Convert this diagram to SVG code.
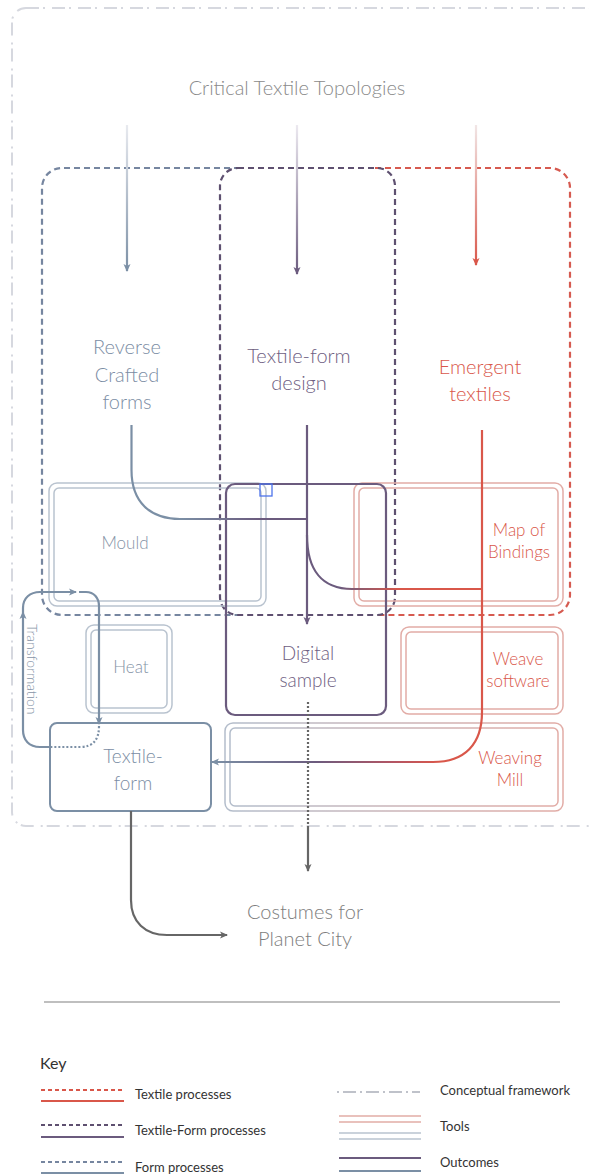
<svg xmlns="http://www.w3.org/2000/svg" width="589" height="1176" viewBox="0 0 589 1176">
<style>
text{font-family:Lato,"Open Sans","Liberation Sans",sans-serif;font-weight:300}
.t20{font-size:20px}
.t18{font-size:17px}
.key{font-size:13px;fill:#333;font-weight:400}
.blue{fill:#7b8da4}
.purp{fill:#6e6082}
.red{fill:#d9574a}
.dashB{fill:none;stroke:#7686a0;stroke-width:2.2;stroke-dasharray:6 4}
.dashP{fill:none;stroke:#5e5070;stroke-width:2.2;stroke-dasharray:6 4}
.dashR{fill:none;stroke:#d65a50;stroke-width:2.2;stroke-dasharray:6 4}
.frame{fill:none;stroke:#d6d8df;stroke-width:2;stroke-dasharray:13 4 2 7}
.toolB{fill:none;stroke:#b9c3cf;stroke-width:1.5}
.toolR{fill:none;stroke:#e2aca6;stroke-width:1.5}
.ln{fill:none;stroke-width:2.2}
</style>
<defs>
<linearGradient id="gB" gradientUnits="userSpaceOnUse" x1="0" y1="125" x2="0" y2="272"><stop offset="0" stop-color="#e8eaef"/><stop offset="1" stop-color="#7b8fa5"/></linearGradient>
<linearGradient id="gP" gradientUnits="userSpaceOnUse" x1="0" y1="125" x2="0" y2="275"><stop offset="0" stop-color="#ece9f0"/><stop offset="1" stop-color="#6b5b7e"/></linearGradient>
<linearGradient id="gR" gradientUnits="userSpaceOnUse" x1="0" y1="125" x2="0" y2="265"><stop offset="0" stop-color="#f1e6e6"/><stop offset="1" stop-color="#d9574a"/></linearGradient>
<linearGradient id="gBP" gradientUnits="userSpaceOnUse" x1="180" y1="0" x2="260" y2="0"><stop offset="0" stop-color="#7b8fa5"/><stop offset="1" stop-color="#6b5b7e"/></linearGradient>
<linearGradient id="gPR" gradientUnits="userSpaceOnUse" x1="340" y1="0" x2="400" y2="0"><stop offset="0" stop-color="#6b5b7e"/><stop offset="1" stop-color="#d9574a"/></linearGradient>
<linearGradient id="gRPB" gradientUnits="userSpaceOnUse" x1="213" y1="0" x2="440" y2="0"><stop offset="0" stop-color="#7b8fa5"/><stop offset="0.45" stop-color="#6b5b7e"/><stop offset="0.8" stop-color="#b55563"/><stop offset="1" stop-color="#d9574a"/></linearGradient>
<linearGradient id="gMill" x1="0" y1="0" x2="1" y2="0"><stop offset="0" stop-color="#b3bdcb"/><stop offset="1" stop-color="#e2aca6"/></linearGradient>
<marker id="aB" viewBox="0 0 8 8" refX="7" refY="4" markerWidth="8" markerHeight="8" markerUnits="userSpaceOnUse" orient="auto"><path d="M0,0.5 L8,4 L0,7.5 L2,4 z" fill="#7b8fa5"/></marker>
<marker id="aP" viewBox="0 0 8 8" refX="7" refY="4" markerWidth="8" markerHeight="8" markerUnits="userSpaceOnUse" orient="auto"><path d="M0,0.5 L8,4 L0,7.5 L2,4 z" fill="#6b5b7e"/></marker>
<marker id="aR" viewBox="0 0 8 8" refX="7" refY="4" markerWidth="8" markerHeight="8" markerUnits="userSpaceOnUse" orient="auto"><path d="M0,0.5 L8,4 L0,7.5 L2,4 z" fill="#d9574a"/></marker>
<marker id="aG" viewBox="0 0 8 8" refX="7" refY="4" markerWidth="8" markerHeight="8" markerUnits="userSpaceOnUse" orient="auto"><path d="M0,0.5 L8,4 L0,7.5 L2,4 z" fill="#666"/></marker>
</defs>
<rect width="589" height="1176" fill="#fff"/>

<!-- conceptual framework -->
<rect id="framework" class="frame" x="12" y="8" width="590" height="818" rx="14"/>

<text id="title" class="t20" x="297" y="95" text-anchor="middle" fill="#8a8a8a">Critical Textile Topologies</text>

<!-- process dashed areas -->
<g id="form-processes"><path class="dashB" d="M240 168 H62 A20 20 0 0 0 42 188 V595 A20 20 0 0 0 62 615 H240"/></g>
<g id="textile-processes"><path class="dashR" d="M375 168 H550 A20 20 0 0 1 570 188 V595 A20 20 0 0 1 550 615 H375"/></g>
<g id="textile-form-processes"><rect class="dashP" x="220" y="168" width="175" height="447" rx="18"/></g>

<!-- tools -->
<g id="mould">
<rect class="toolB" x="49" y="483" width="217" height="123" rx="8"/>
<rect class="toolB" x="54" y="488" width="207" height="113" rx="5"/>
<text class="t18" x="125" y="549" text-anchor="middle" fill="#8593a6">Mould</text>
</g>
<g id="heat">
<rect class="toolB" x="86" y="625" width="86" height="88" rx="8"/>
<rect class="toolB" x="91" y="630" width="76" height="78" rx="5"/>
<text class="t18" x="131" y="673" text-anchor="middle" fill="#8593a6">Heat</text>
</g>
<g id="map-of-bindings">
<rect class="toolR" x="354" y="483" width="209" height="123" rx="8"/>
<rect class="toolR" x="359" y="488" width="199" height="113" rx="5"/>
<text class="t18 red" x="519" y="536" text-anchor="middle">Map of</text>
<text class="t18 red" x="519" y="558" text-anchor="middle">Bindings</text>
</g>
<g id="weave-software">
<rect class="toolR" x="401" y="627" width="162" height="87" rx="8"/>
<rect class="toolR" x="406" y="632" width="152" height="77" rx="5"/>
<text class="t18 red" x="518" y="665" text-anchor="middle">Weave</text>
<text class="t18 red" x="518" y="687" text-anchor="middle">software</text>
</g>
<g id="weaving-mill">
<rect x="225" y="723" width="338" height="88" rx="8" fill="none" stroke="url(#gMill)" stroke-width="1.5"/>
<rect x="230" y="728" width="328" height="78" rx="5" fill="none" stroke="url(#gMill)" stroke-width="1.5"/>
<text class="t18 red" x="510" y="764" text-anchor="middle">Weaving</text>
<text class="t18 red" x="510" y="786" text-anchor="middle">Mill</text>
</g>

<!-- nodes -->
<g id="reverse-crafted-forms">
<text class="t20 blue" x="127" y="354" text-anchor="middle">Reverse</text>
<text class="t20 blue" x="127" y="382" text-anchor="middle">Crafted</text>
<text class="t20 blue" x="127" y="409" text-anchor="middle">forms</text>
</g>
<g id="textile-form-design">
<text class="t20 purp" x="299" y="363" text-anchor="middle">Textile-form</text>
<text class="t20 purp" x="299" y="390" text-anchor="middle">design</text>
</g>
<g id="emergent-textiles">
<text class="t20 red" x="480" y="374" text-anchor="middle">Emergent</text>
<text class="t20 red" x="480" y="401" text-anchor="middle">textiles</text>
</g>
<g id="digital-sample">
<rect x="226" y="484" width="160" height="231" rx="9" fill="none" stroke="#6b5b7e" stroke-width="2.2"/>
<text class="t18 purp" x="308" y="660" text-anchor="middle" style="font-size:19px">Digital</text>
<text class="t18 purp" x="308" y="687" text-anchor="middle" style="font-size:19px">sample</text>
</g>
<g id="textile-form">
<rect x="50" y="723" width="161" height="88" rx="7" fill="none" stroke="#7b8fa5" stroke-width="2"/>
<text class="t20 blue" x="133" y="763" text-anchor="middle" style="font-size:19px">Textile-</text>
<text class="t20 blue" x="133" y="790" text-anchor="middle" style="font-size:19px">form</text>
</g>
<g id="costumes">
<text class="t20" x="305" y="919" text-anchor="middle" fill="#7d7d7d">Costumes for</text>
<text class="t20" x="305" y="946" text-anchor="middle" fill="#7d7d7d">Planet City</text>
</g>
<rect id="handle" x="260" y="484" width="12" height="12" fill="none" stroke="#4d73ec" stroke-width="1.3"/>

<!-- connectors -->
<g id="connectors">
<path class="ln" stroke="url(#gB)" d="M127 125 V271" marker-end="url(#aB)"/>
<path class="ln" stroke="url(#gP)" d="M297 125 V274" marker-end="url(#aP)"/>
<path class="ln" stroke="url(#gR)" d="M476 125 V265" marker-end="url(#aR)"/>
<path class="ln" stroke="url(#gBP)" d="M131.5 425 V470 C131.5 502 150 519 180 519 H307"/>
<path class="ln" stroke="#6b5b7e" d="M307 425 V624" marker-end="url(#aP)"/>
<path class="ln" stroke="url(#gPR)" d="M307 535 C307 570 322 589 352 589 H482"/>
<path class="ln" stroke="url(#gRPB)" d="M482 430 V712 C482 744 465 762 433 762 H212" marker-end="url(#aB)"/>
<path class="ln" stroke="#666" stroke-dasharray="2 2" d="M308 702 V826"/>
<path class="ln" stroke="#666" d="M308 826 V871" marker-end="url(#aG)"/>
<path class="ln" stroke="#666" d="M131 811 V900 C131 922 145 935 167 935 H227" marker-end="url(#aG)"/>
<!-- transformation loop -->
<path class="ln" stroke="#7b8fa5" d="M50 747 H40 C29 747 23 740 23 730 V612" marker-end="url(#aB)"/>
<path class="ln" stroke="#7b8fa5" d="M23 612 V608 C23 598 30 592 40 592 H76" marker-end="url(#aB)"/>
<path class="ln" stroke="#7b8fa5" d="M79 592 H86 C94 592 99 598 99 606 V724" marker-end="url(#aB)"/>
<path class="ln" stroke="#7b8fa5" stroke-dasharray="2 2" d="M99 726 C99 740 93 747 80 747 H50"/>
</g>
<text id="transformation" x="0" y="0" transform="translate(27 624) rotate(90)" font-size="14" fill="#8593a6">Transformation</text>

<line id="separator" x1="44" y1="1002" x2="560" y2="1002" stroke="#aaa" stroke-width="1.5"/>

<!-- key -->
<g id="key">
<text x="40" y="1069" style="font-size:16px;font-weight:400" fill="#333">Key</text>
<line x1="41" y1="1090" x2="124" y2="1090" stroke="#d9574a" stroke-width="2" stroke-dasharray="4 3"/>
<line x1="41" y1="1101" x2="124" y2="1101" stroke="#d9574a" stroke-width="2.2"/>
<text class="key" x="135" y="1099">Textile processes</text>
<line x1="41" y1="1125" x2="124" y2="1125" stroke="#5e5070" stroke-width="2" stroke-dasharray="4 3"/>
<line x1="41" y1="1137" x2="124" y2="1137" stroke="#6b5b7e" stroke-width="2.2"/>
<text class="key" x="135" y="1135">Textile-Form processes</text>
<line x1="41" y1="1162" x2="124" y2="1162" stroke="#7686a0" stroke-width="2" stroke-dasharray="4 3"/>
<line x1="41" y1="1173" x2="124" y2="1173" stroke="#7b8fa5" stroke-width="2.2"/>
<text class="key" x="135" y="1172">Form processes</text>
<line x1="337" y1="1092" x2="420" y2="1092" stroke="#bfc2ca" stroke-width="2" stroke-dasharray="2 4 13 4"/>
<text class="key" x="440" y="1095">Conceptual framework</text>
<line x1="339" y1="1116" x2="421" y2="1116" class="toolR"/>
<line x1="339" y1="1122" x2="421" y2="1122" class="toolR"/>
<line x1="339" y1="1133" x2="421" y2="1133" class="toolB"/>
<line x1="339" y1="1139" x2="421" y2="1139" class="toolB"/>
<text class="key" x="440" y="1131">Tools</text>
<line x1="339" y1="1158" x2="421" y2="1158" stroke="#6b5b7e" stroke-width="2.2"/>
<line x1="339" y1="1171" x2="421" y2="1171" stroke="#7b8fa5" stroke-width="2.2"/>
<text class="key" x="440" y="1167">Outcomes</text>
</g>
</svg>
